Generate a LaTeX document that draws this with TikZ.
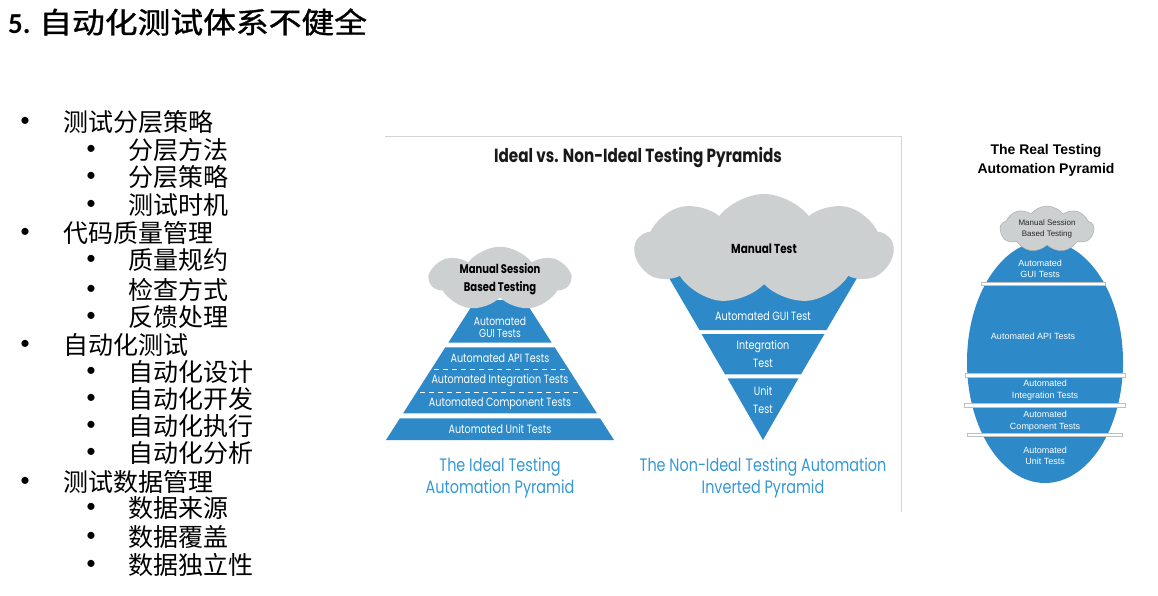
\documentclass[tikz,border=0pt]{standalone}
\usepackage{fontspec}
\setmainfont{Noto Sans CJK SC}
\newfontfamily\cjk{Noto Sans CJK SC}
\newfontfamily\cjktitle[FakeStretch=1.13,FakeBold=1.2]{Noto Sans CJK SC}
\newfontfamily\calfont{Carlito}
\newfontfamily\fut[FakeStretch=0.8]{Poppins}
\newfontfamily\hel{Liberation Sans}
\usetikzlibrary{shapes.symbols}
\definecolor{pblue}{RGB}{45,137,200}
\definecolor{capblue}{RGB}{52,152,214}
\definecolor{cloudgrey}{RGB}{205,208,209}
\definecolor{framegrey}{RGB}{212,212,212}
\tikzset{
  li/.style={anchor=west, font=\fontsize{25}{28}\selectfont\cjk, inner sep=0},
  bul/.style={font=\fontsize{20}{20}\selectfont\calfont, inner sep=0},
  wl/.style={text=white, font=\fontsize{12}{14}\selectfont\fut, align=center, inner sep=0},
  captxt/.style={text=capblue, font=\fontsize{18}{22}\selectfont\fut, align=center, inner sep=0},
  cloudbox/.style={cloud, cloud puffs=8, cloud puff arc=105, cloud ignores aspect, fill=cloudgrey, inner sep=0, align=center},
  rl/.style={text=white, font=\fontsize{9}{11.5}\selectfont\hel, align=center, inner sep=0},
  band/.style={fill=white, draw=black!25, line width=0.4pt},
}
\begin{document}
\begin{tikzpicture}[x=1pt,y=-1pt]
\useasboundingbox[fill=white] (0,0) rectangle (1158,595);
% title
\node[anchor=west, inner sep=0] (title) at (8,22) {\fontsize{29}{32}\selectfont{\calfont\bfseries 5.} \cjktitle 自动化测试体系不健全};
% list
\node[bul] (b1) at (25,121.7) {•};  \node[li] (t1) at (63,121.7) {测试分层策略};
\node[bul] (b2) at (91,150) {•};    \node[li] (t2) at (128,150) {分层方法};
\node[bul] (b3) at (91,177) {•};    \node[li] (t3) at (128,177) {分层策略};
\node[bul] (b4) at (91,205) {•};    \node[li] (t4) at (128,205) {测试时机};
\node[bul] (b5) at (25,232.7) {•};  \node[li] (t5) at (63,232.7) {代码质量管理};
\node[bul] (b6) at (91,260) {•};    \node[li] (t6) at (128,260) {质量规约};
\node[bul] (b7) at (91,290) {•};    \node[li] (t7) at (128,290) {检查方式};
\node[bul] (b8) at (91,316.7) {•};  \node[li] (t8) at (128,316.7) {反馈处理};
\node[bul] (b9) at (25,345) {•};    \node[li] (t9) at (63,345) {自动化测试};
\node[bul] (b10) at (91,371.7) {•}; \node[li] (t10) at (128,371.7) {自动化设计};
\node[bul] (b11) at (91,399) {•};   \node[li] (t11) at (128,399) {自动化开发};
\node[bul] (b12) at (91,426) {•};   \node[li] (t12) at (128,426) {自动化执行};
\node[bul] (b13) at (91,453) {•};   \node[li] (t13) at (128,453) {自动化分析};
\node[bul] (b14) at (25,481.7) {•}; \node[li] (t14) at (63,481.7) {测试数据管理};
\node[bul] (b15) at (91,508) {•};   \node[li] (t15) at (128,508) {数据来源};
\node[bul] (b16) at (91,536.7) {•}; \node[li] (t16) at (128,536.7) {数据覆盖};
\node[bul] (b17) at (91,565) {•};   \node[li] (t17) at (128,565) {数据独立性};

% middle frame
\draw[framegrey, line width=0.8pt] (385,136.5) -- (901,136.5) -- (901,512);
\node[font=\fontsize{19}{22}\selectfont\fut\bfseries, text=black!90, inner sep=0] (mtitle) at (638,157) {Ideal vs. Non-Ideal Testing Pyramids};

% ideal pyramid
\fill[pblue] (386,440) -- (614,440) -- (600.1,418.3) -- (399.9,418.3) -- cycle;
\fill[pblue] (403.1,413.3) -- (596.9,413.3) -- (554.7,347.3) -- (445.3,347.3) -- cycle;
\fill[pblue] (448.3,342.7) -- (551.7,342.7) -- (524.4,300) -- (475.6,300) -- cycle;
\draw[white, line width=0.9pt, dash pattern=on 5pt off 4pt] (434,369.3) -- (566,369.3);
\draw[white, line width=0.9pt, dash pattern=on 5pt off 4pt] (420,392.7) -- (580,392.7);
\node[cloudbox, minimum width=140, minimum height=58, cloud puffs=7, font=\fontsize{12.5}{18}\selectfont\fut\bfseries] (c1) at (500,279) {Manual Session\\Based Testing};
\node[wl, font=\fontsize{11.5}{12}\selectfont\fut] (i1) at (500,327) {Automated\\GUI Tests};
\node[wl] (i2) at (500,358.3) {Automated API Tests};
\node[wl] (i3) at (500,380.5) {Automated Integration Tests};
\node[wl] (i4) at (500,404) {Automated Component Tests};
\node[wl] (i5) at (500,429.3) {Automated Unit Tests};
\node[captxt] (cap1) at (500,477.5) {The Ideal Testing\\Automation Pyramid};

% inverted pyramid
\fill[pblue] (763,440) -- (727.5,378.3) -- (798.5,378.3) -- cycle;
\fill[pblue] (725,374.3) -- (801,374.3) -- (824.5,334) -- (701.5,334) -- cycle;
\fill[pblue] (699.5,330) -- (826.5,330) -- (864,266) -- (662,266) -- cycle;
\node[cloudbox, minimum width=258, minimum height=110, cloud puffs=9, font=\fontsize{13}{15}\selectfont\fut\bfseries] (c2) at (764,249) {Manual Test};
\node[wl] (n1) at (763,316) {Automated GUI Test};
\node[wl, font=\fontsize{12}{18.5}\selectfont\fut] (n2) at (763,354) {Integration\\Test};
\node[wl, font=\fontsize{12}{18.5}\selectfont\fut] (n3) at (763,400) {Unit\\Test};
\node[captxt] (cap2) at (763,477.5) {The Non-Ideal Testing Automation\\Inverted Pyramid};

% real pyramid
\node[font=\fontsize{14}{19}\selectfont\hel\bfseries, align=center, inner sep=0] (rtitle) at (1046,160.5) {The Real Testing\\Automation Pyramid};
\fill[pblue] (1045,362) ellipse [x radius=78, y radius=121];
\draw[band] (980.7,282.5) rectangle (1105,285.5);
\draw[band] (965,373.5) rectangle (1125,377);
\draw[band] (964,403.5) rectangle (1125,407);
\draw[band] (967,433.5) rectangle (1121.7,436.5);
\node[cloudbox, minimum width=94, minimum height=46, cloud puffs=9, draw=black!35, line width=0.4pt, font=\fontsize{8}{11}\selectfont\hel, text=black!85] (c3) at (1047,229) {Manual Session\\Based Testing};
\node[rl] (r1) at (1040,269) {Automated\\GUI Tests};
\node[rl] (r2) at (1033,336.7) {Automated API Tests};
\node[rl] (r3) at (1045,390) {Automated\\Integration Tests};
\node[rl] (r4) at (1045,421) {Automated\\Component Tests};
\node[rl] (r5) at (1045,456) {Automated\\Unit Tests};
\end{tikzpicture}
\end{document}
